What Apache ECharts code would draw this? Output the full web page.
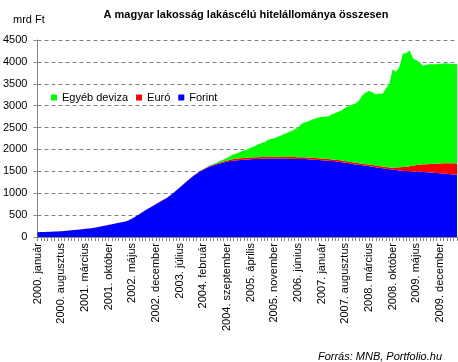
<!DOCTYPE html>
<html>
<head>
<meta charset="utf-8">
<script src="https://cdn.jsdelivr.net/npm/echarts@6/dist/echarts.min.js"></script>
<style>html,body{margin:0;padding:0;background:#fff;}#c{width:458px;height:362px;}</style>
</head>
<body>
<div id="c"></div>
<script>
var years = [2000, 2001, 2002, 2003, 2004, 2005, 2006, 2007, 2008, 2009, 2010];
var monthNames = ['január', 'február', 'március', 'április', 'május', 'június', 'július', 'augusztus', 'szeptember', 'október', 'november', 'december'];
var pointCount = 125;
var categories = [];
for (var yi = 0; yi < years.length; yi++) {
  for (var mi = 0; mi < 12; mi++) {
    if (categories.length < pointCount) categories.push(years[yi] + '. ' + monthNames[mi]);
  }
}

var forint = [
  110, 112, 115, 117, 120, 124, 128, 133, 137, 145, 152, 160,
  168, 176, 184, 192, 200, 213, 228, 243, 258, 275, 292, 308,
  325, 338, 352, 385, 420, 468, 515, 565, 615, 660, 705, 750,
  795, 838, 880, 938, 995, 1060, 1125, 1192, 1260, 1325, 1390, 1445,
  1495, 1535, 1575, 1610, 1635, 1660, 1681, 1700, 1718, 1735, 1746, 1756,
  1761, 1766, 1771, 1775, 1779, 1782, 1786, 1789, 1792, 1795, 1795, 1794,
  1793, 1791, 1790, 1788, 1786, 1784, 1781, 1779, 1775, 1770, 1765, 1760,
  1756, 1749, 1742, 1735, 1728, 1720, 1708, 1695, 1683, 1670, 1658, 1648,
  1637, 1626, 1615, 1605, 1594, 1583, 1572, 1561, 1550, 1540, 1530, 1520,
  1510, 1506, 1502, 1499, 1495, 1492, 1486, 1479, 1473, 1466, 1460, 1454,
  1448, 1442, 1436, 1430, 1425
];
var euro = [
  1, 1, 1, 1, 1, 1, 1, 1, 1, 1, 1, 1,
  2, 2, 2, 2, 2, 2, 2, 2, 2, 2, 2, 2,
  3, 3, 3, 3, 3, 3, 3, 3, 3, 3, 3, 3,
  5, 5, 5, 5, 5, 5, 5, 5, 8, 8, 8, 8,
  10, 12, 14, 16, 18, 21, 23, 26, 29, 32, 35, 37,
  38, 38, 39, 39, 40, 40, 40, 40, 40, 40, 40, 40,
  40, 40, 40, 40, 40, 40, 40, 40, 40, 40, 39, 39,
  39, 39, 38, 38, 38, 38, 38, 38, 38, 38, 38, 38,
  38, 38, 38, 38, 38, 38, 38, 38, 38, 45, 58, 72,
  88, 100, 115, 130, 148, 165, 175, 185, 195, 205, 218, 226,
  234, 240, 246, 252, 256
];
var egyeb = [
  0, 0, 0, 0, 0, 0, 0, 0, 0, 0, 0, 0,
  0, 0, 0, 0, 0, 0, 0, 0, 0, 0, 0, 0,
  0, 0, 0, 0, 0, 0, 0, 0, 0, 0, 0, 0,
  0, 0, 0, 0, 0, 0, 0, 0, 0, 0, 0, 0,
  3, 5, 8, 12, 16, 22, 31, 44, 58, 83, 109, 122,
  146, 171, 190, 226, 251, 288, 314, 331, 378, 405, 420, 456,
  487, 519, 555, 592, 629, 676, 759, 801, 825, 870, 896, 931,
  950, 957, 980, 1027, 1064, 1102, 1154, 1217, 1269, 1312, 1354, 1424,
  1555, 1636, 1682, 1662, 1623, 1659, 1660, 1791, 1912, 2245, 2187, 2298,
  2592, 2589, 2648, 2451, 2397, 2328, 2249, 2278, 2276, 2275, 2270, 2275,
  2283, 2288, 2278, 2268, 2267
];

var yMax = 4500;
var yStep = 500;

var chart = echarts.init(document.getElementById('c'), null, {renderer: 'canvas'});
var FONT = 'Liberation Sans, Arial, sans-serif';
function areaSeries(name, data, color) {
  return {
    name: name, type: 'line', stack: 'total', data: data,
    symbol: 'none', showSymbol: false, smooth: false,
    lineStyle: {width: 0},
    areaStyle: {color: color, opacity: 1},
    itemStyle: {color: color},
    emphasis: {disabled: true},
    animation: false
  };
}
chart.setOption({
  animation: false,
  backgroundColor: '#ffffff',
  title: [
    {text: 'A magyar lakosság lakáscélú hitelállománya összesen', left: 241, textAlign: 'center', top: 4,
     textStyle: {fontFamily: FONT, fontSize: 11, fontWeight: 'bold', color: '#000'}},
    {text: 'mrd Ft', left: 8, top: 9, textStyle: {fontFamily: FONT, fontSize: 11, fontWeight: 'normal', color: '#000'}},
    {text: 'Forrás: MNB, Portfolio.hu', left: 437, textAlign: 'right', top: 346,
     textStyle: {fontFamily: FONT, fontSize: 11, fontStyle: 'italic', fontWeight: 'normal', color: '#000'}}
  ],
  legend: {
    data: ['Egyéb deviza', 'Euró', 'Forint'],
    left: 46, top: 87, itemWidth: 6, itemHeight: 6, itemGap: 8,
    icon: 'rect',
    textStyle: {fontFamily: FONT, fontSize: 11, color: '#000'},
    selectedMode: false
  },
  grid: {left: 37, right: 1, top: 40, bottom: 125, containLabel: false},
  xAxis: {
    type: 'category', data: categories, boundaryGap: false,
    axisLine: {lineStyle: {color: '#868686', width: 1}},
    axisTick: {show: true, interval: 0, length: 4, lineStyle: {color: '#868686'}},
    axisLabel: {interval: 6, rotate: 90, margin: 6, fontFamily: FONT, fontSize: 11, color: '#000'},
    splitLine: {show: false}
  },
  yAxis: {
    type: 'value', min: 0, max: yMax, interval: yStep,
    axisLine: {show: true, lineStyle: {color: '#868686', width: 1}},
    axisTick: {show: true, length: 4, lineStyle: {color: '#868686'}},
    axisLabel: {margin: 10, fontFamily: FONT, fontSize: 11, color: '#000', formatter: function (v) { return String(v); }},
    splitLine: {show: true, lineStyle: {color: '#808080', type: [4, 3], width: 1}}
  },
  series: [
    areaSeries('Forint', forint, '#0000ff'),
    areaSeries('Euró', euro, '#ff0000'),
    areaSeries('Egyéb deviza', egyeb, '#00ff00')
  ]
});
</script>
</body>
</html>
